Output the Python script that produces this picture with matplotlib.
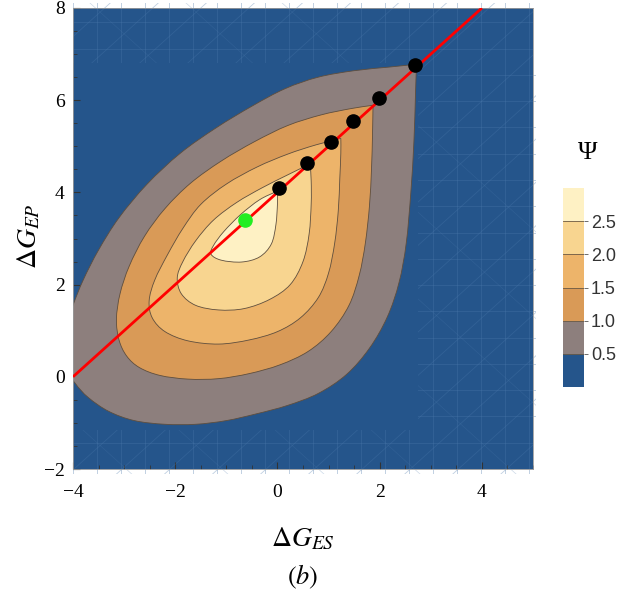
import numpy as np
import matplotlib
matplotlib.use("Agg")
import matplotlib.pyplot as plt
from matplotlib.path import Path
from matplotlib.patches import PathPatch, Rectangle
from matplotlib.colors import ListedColormap, BoundaryNorm
from matplotlib.cm import ScalarMappable
from matplotlib.ticker import MultipleLocator

plt.rcParams['mathtext.fontset'] = 'stix'

# ---------------- data ----------------
levels = [0.0, 0.5, 1.0, 1.5, 2.0, 2.5, 3.0]
level_colors = ['#25558b', '#8d7f7d', '#d99a57', '#edb46a', '#f8d590', '#fef1c4']
cbar_ticks = [0.5, 1.0, 1.5, 2.0, 2.5]

# contour Psi = 0.5 (outer edge of grey region), tip first
c05_x = [2.72, 2.20, 1.50, 0.80, 0.15, -0.50, -1.20, -1.90, -2.55, -3.10, -3.50, -3.80, -4.00,
         -4.12, -4.12, -3.95, -3.70, -3.30, -2.80, -2.20, -1.60, -1.00, -0.40, 0.20, 0.80,
         1.35, 1.80, 2.15, 2.38, 2.52, 2.61, 2.67, 2.70]
c05_y = [6.78, 6.72, 6.64, 6.50, 6.25, 5.87, 5.40, 4.85, 4.18, 3.45, 2.75, 2.10, 1.55,
         1.10, 0.20, -0.15, -0.45, -0.75, -0.95, -1.03, -1.03, -0.95, -0.80, -0.62, -0.36,
         0.05, 0.62, 1.30, 2.05, 2.90, 4.00, 5.10, 6.10]

# contour Psi = 1.0
c10_x = [1.87, 1.45, 0.85, 0.20, -0.45, -1.10, -1.70, -2.20, -2.60, -2.90, -3.08, -3.15,
         -3.10, -2.95, -2.70, -2.30, -1.75, -1.15, -0.55, 0.05, 0.60, 1.05, 1.40, 1.60,
         1.72, 1.80, 1.84, 1.86]
c10_y = [5.89, 5.82, 5.68, 5.45, 5.10, 4.68, 4.20, 3.65, 3.05, 2.40, 1.80, 1.25,
         0.80, 0.45, 0.20, 0.03, -0.05, -0.04, 0.07, 0.26, 0.55, 0.98, 1.55, 2.20,
         2.90, 3.70, 4.50, 5.25]

# contour Psi = 1.5
c15_x = [1.24, 0.75, 0.20, -0.40, -1.00, -1.50, -1.85, -2.15, -2.40, -2.51, -2.45, -2.20,
         -1.75, -1.15, -0.55, 0.00, 0.45, 0.80, 1.00, 1.12, 1.19, 1.22, 1.24]
c15_y = [5.17, 5.03, 4.83, 4.55, 4.18, 3.74, 3.22, 2.65, 2.10, 1.65, 1.28, 0.98,
         0.78, 0.71, 0.80, 0.98, 1.28, 1.72, 2.25, 2.90, 3.60, 4.30, 4.85]

# contour Psi = 2.0
c20_x = [0.64, 0.20, -0.30, -0.80, -1.25, -1.60, -1.85, -1.96, -1.88, -1.60, -1.15, -0.65,
         -0.15, 0.25, 0.50, 0.62, 0.66, 0.66]
c20_y = [4.62, 4.38, 4.10, 3.78, 3.40, 2.95, 2.50, 2.15, 1.80, 1.55, 1.45, 1.48,
         1.68, 2.00, 2.50, 3.10, 3.75, 4.25]

# contour Psi = 2.5
c25_x = [0.00, -0.35, -0.72, -1.05, -1.25, -1.30, -1.10, -0.70, -0.35, -0.12, -0.03, 0.00]
c25_y = [4.03, 3.84, 3.52, 3.15, 2.85, 2.66, 2.53, 2.49, 2.60, 2.88, 3.30, 3.75]

contours = [(c05_x, c05_y), (c10_x, c10_y), (c15_x, c15_y), (c20_x, c20_y), (c25_x, c25_y)]

# red line and points
line_x = [-4.0, 4.0]
line_y = [0.0, 8.0]
black_x = [0.04, 0.58, 1.04, 1.48, 1.98, 2.70]
black_y = [4.09, 4.63, 5.09, 5.54, 6.05, 6.76]
green_x = [-0.64]
green_y = [3.40]

xticks = [-4, -2, 0, 2, 4]
yticks = [-2, 0, 2, 4, 6, 8]


def smooth_closed_path(xs, ys):
    """Closed Catmull-Rom style Bezier path through the points, sharp corner at the tip (index 0)."""
    P = np.column_stack([xs, ys]).astype(float)
    n = len(P)
    T = np.zeros_like(P)
    for i in range(1, n):
        T[i] = (P[(i + 1) % n] - P[i - 1]) / 2.0
    t_out = P[1] - P[0]
    t_in = P[0] - P[n - 1]
    verts = [P[0]]
    codes = [Path.MOVETO]
    for i in range(n):
        j = (i + 1) % n
        ti = t_out if i == 0 else T[i]
        tj = t_in if j == 0 else T[j]
        verts += [P[i] + ti / 3.0, P[j] - tj / 3.0, P[j]]
        codes += [Path.CURVE4, Path.CURVE4, Path.CURVE4]
    verts.append(P[0])
    codes.append(Path.CLOSEPOLY)
    return Path(verts, codes)


fig = plt.figure(figsize=(6.19, 5.96), dpi=100)
ax = fig.add_axes([73 / 619, 1 - 469 / 596, 460 / 619, 461 / 596])
ax.set_xlim(-4, 5)
ax.set_ylim(-2, 8)
ax.set_facecolor(level_colors[0])

# faint rendering mesh in the background (decorative)
mesh_col = '#4a78ab'
bands = [(-4, 6.8, 9, 1.3), (2.75, -1.15, 2.3, 7.95), (-4, -2.1, 9, 0.95)]
for (bx, by, bw, bh) in bands:
    clip = Rectangle((bx, by), bw, bh, transform=ax.transData)
    segs = []
    for v in np.arange(-4, 5.01, 0.47):
        segs.append(ax.plot([v, v], [-2.5, 8.5], color=mesh_col, lw=0.6, alpha=0.4)[0])
    for h in np.arange(-2, 8.01, 0.57):
        segs.append(ax.plot([-4.5, 5.5], [h, h], color=mesh_col, lw=0.6, alpha=0.4)[0])
    for d in np.arange(-14, 14, 0.94):
        segs.append(ax.plot([-5, 6], [-5 + d, 6 + d], color=mesh_col, lw=0.6, alpha=0.35)[0])
    for d in np.arange(-10, 20, 1.88):
        segs.append(ax.plot([-5, 6], [d - 5, d - 16], color=mesh_col, lw=0.5, alpha=0.28)[0])
    for s in segs:
        s.set_clip_path(clip)

for k, (cx, cy) in enumerate(contours):
    path = smooth_closed_path(cx, cy)
    ax.add_patch(PathPatch(path, facecolor=level_colors[k + 1],
                           edgecolor='#5e4e3e', lw=0.6, zorder=2 + k))

ax.plot(line_x, line_y, color='#ff0000', lw=2.0, zorder=10, solid_capstyle='butt')
ax.plot(black_x, black_y, 'o', color='black', ms=9.5, zorder=11)
ax.plot(green_x, green_y, 'o', color='#22ee22', ms=9.5, zorder=11)

ax.set_xticks(xticks)
ax.set_yticks(yticks)
ax.xaxis.set_minor_locator(MultipleLocator(0.5))
ax.yaxis.set_minor_locator(MultipleLocator(0.5))
ax.tick_params(which='both', direction='in', color='#333333', top=False, right=False)
ax.tick_params(which='major', length=5, width=0.8, labelsize=14, pad=6)
ax.tick_params(axis='x', which='major', pad=11)
ax.tick_params(which='minor', length=3, width=0.6)
for lab in ax.get_xticklabels() + ax.get_yticklabels():
    lab.set_family('Liberation Serif')
for sp in ax.spines.values():
    sp.set_color('#9a9a9a')
    sp.set_linewidth(0.6)

fig.text(303 / 619, 1 - 538 / 596, r'$\Delta G_{ES}$', fontsize=20, ha='center', va='center')
fig.text(28 / 619, 1 - 236 / 596, r'$\Delta G_{EP}$', fontsize=20, ha='center', va='center', rotation=90)
fig.text(303 / 619, 1 - 577 / 596, r'$(b)$', fontsize=19, ha='center', va='center')

# colorbar
cax = fig.add_axes([563 / 619, 1 - 387 / 596, 21 / 619, 199 / 596])
norm = BoundaryNorm(levels, len(level_colors))
sm = ScalarMappable(norm=norm, cmap=ListedColormap(level_colors))
cb = fig.colorbar(sm, cax=cax, ticks=cbar_ticks)
cb.outline.set_visible(False)
cb.ax.minorticks_off()
cb.ax.set_yticks(cbar_ticks)
cb.ax.set_yticklabels(['%.1f' % t for t in cbar_ticks])
cb.ax.tick_params(length=3, width=0.6, color='#555555', labelsize=13, pad=2, labelcolor='#333333')
for lab in cb.ax.get_yticklabels():
    lab.set_family('Liberation Sans')
for t in cbar_ticks:
    cax.axhline(t, color='#6b5a45', lw=0.6)
fig.text(588 / 619, 1 - 153 / 596, 'Ψ', fontsize=19, family='Liberation Serif', ha='center', va='center')

fig.savefig('out.png', dpi=100)
